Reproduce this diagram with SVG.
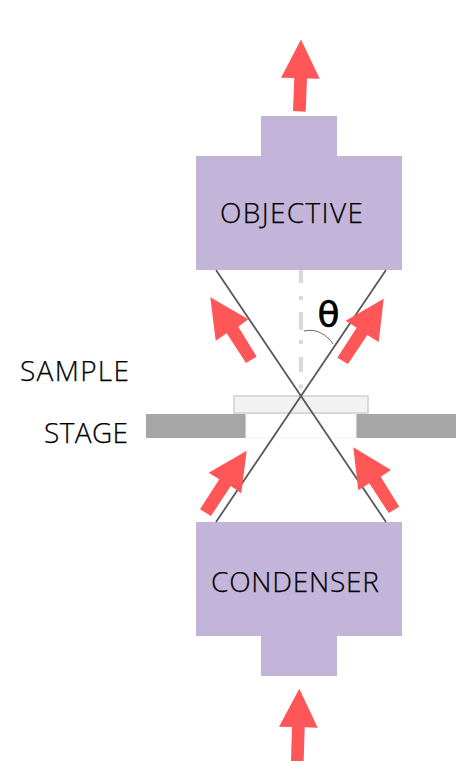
<svg xmlns="http://www.w3.org/2000/svg" width="456" height="761" viewBox="0 0 456 761">
<style>
.scope{fill:#c3b5d9}
.arrow{fill:#ff5757}
.ray{stroke:#595959;stroke-width:1.800;fill:none}
.stage{fill:#a6a6a6}
.label{font-family:"Open Sans","Noto Sans",sans-serif;font-size:28px;font-weight:300;fill:#000;stroke:#000;stroke-width:0.250}
</style>
<rect width="456" height="761" fill="#fff"/>
<g id="stage"><rect class="stage" x="146" y="414" width="100" height="24"/><rect class="stage" x="356" y="414" width="100" height="24"/><rect x="246" y="414" width="110" height="24" fill="#fff" stroke="#f2f2f2"/></g>
<g id="sample"><rect x="234" y="396" width="134" height="17" fill="#f2f2f2" stroke="#d9d9d9" stroke-width="2"/></g>
<g id="objective"><rect class="scope" x="261" y="116" width="76" height="40"/><rect class="scope" x="196" y="156" width="206" height="114"/><text class="label" x="220" y="223" textLength="143">OBJECTIVE</text></g>
<g id="condenser"><rect class="scope" x="261" y="636" width="76" height="40"/><rect class="scope" x="196" y="522" width="206" height="114"/><text class="label" x="211" y="592" textLength="168">CONDENSER</text></g>
<g id="connectors">
<path d="M301 270V396" fill="none" stroke="#d9d9d9" stroke-width="4" stroke-dasharray="13 13 4 12 18 10 4 13 15 12.600 4 8"/>
<path class="ray" d="M216 270L386 522M386 270L216 522"/>
<path d="M304 331C317 328 327 335 333 344" fill="none" stroke="#404040" stroke-width="0.800"/>
<polygon class="arrow" points="301,39.500 319.700,78.700 307,78.400 305.700,111.700 293,111 294.300,78 281,77.700"/>
<polygon class="arrow" points="299.300,688.700 317.700,727.700 304.700,727.300 303.700,761 291,761 292,727 279,726.700"/>
<polygon class="arrow" points="210.300,297.300 248.300,319.300 238.300,326.700 256.700,356.700 246,363 226.700,333.300 215.700,340.700"/>
<polygon class="arrow" points="383.700,298.700 378.700,342 367.300,335 348,364 337.300,357.700 356.700,327.700 345.700,320.700"/>
<polygon class="arrow" points="246.700,450.700 241.300,493.300 230.700,486 211,516 200,509.300 219.300,479.300 208.700,472.700"/>
<polygon class="arrow" points="353.300,447.300 391,470 380.700,476.700 399.300,506.700 388.700,513 369.300,483.300 358.300,490.300"/>
</g>
<text class="label" x="20" y="381" textLength="109">SAMPLE</text>
<text class="label" x="44" y="443" textLength="84">STAGE</text>
<text x="317.500" y="326.500" font-family="DejaVu Sans,sans-serif" font-size="36" fill="#000" stroke="#000" stroke-width="0.600">θ</text>
</svg>
